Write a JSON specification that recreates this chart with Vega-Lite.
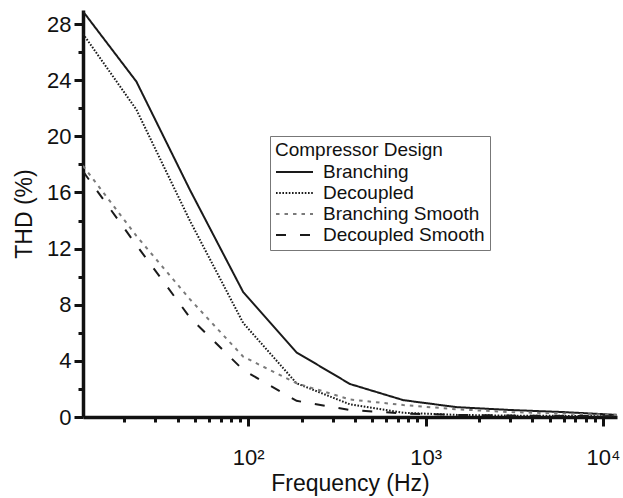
{
  "$schema": "https://vega.github.io/schema/vega-lite/v6.json",
  "width": 534,
  "height": 407,
  "autosize": {"type": "none"},
  "padding": {"left": 83, "top": 10, "right": 6, "bottom": 81},
  "background": "white",
  "config": {
    "view": {"stroke": null},
    "font": "Liberation Sans",
    "axis": {
      "grid": false,
      "domainColor": "#111",
      "domainWidth": 3.5,
      "tickColor": "#111",
      "tickWidth": 3,
      "labelColor": "#111",
      "titleColor": "#111",
      "labelFont": "Liberation Sans",
      "titleFont": "Liberation Sans",
      "titleFontWeight": "normal",
      "labelFontSize": 22,
      "titleFontSize": 23
    },
    "legend": {
      "orient": "none",
      "legendX": 187,
      "legendY": 126,
      "strokeColor": "#777",
      "fillColor": "white",
      "padding": 5,
      "titleFont": "Liberation Sans",
      "labelFont": "Liberation Sans",
      "titleFontWeight": "normal",
      "titleFontSize": 19,
      "labelFontSize": 19,
      "titleColor": "#111",
      "labelColor": "#111",
      "titlePadding": 1,
      "rowPadding": 0,
      "symbolType": "M-1,0H2.7",
      "symbolSize": 400,
      "symbolStrokeWidth": 2,
      "labelOffset": 26,
      "labelLimit": 400
    }
  },
  "data": {
    "values": [
      {"design": "Branching", "freq": 11.71875, "thd": 28.9},
      {"design": "Branching", "freq": 23.4375, "thd": 23.9},
      {"design": "Branching", "freq": 46.875, "thd": 16.2},
      {"design": "Branching", "freq": 93.75, "thd": 8.9},
      {"design": "Branching", "freq": 187.5, "thd": 4.6},
      {"design": "Branching", "freq": 375, "thd": 2.35},
      {"design": "Branching", "freq": 750, "thd": 1.2},
      {"design": "Branching", "freq": 1500, "thd": 0.7},
      {"design": "Branching", "freq": 3000, "thd": 0.5},
      {"design": "Branching", "freq": 6000, "thd": 0.35},
      {"design": "Branching", "freq": 12000, "thd": 0.15},
      {"design": "Decoupled", "freq": 11.71875, "thd": 27.3},
      {"design": "Decoupled", "freq": 23.4375, "thd": 21.9},
      {"design": "Decoupled", "freq": 46.875, "thd": 14.0},
      {"design": "Decoupled", "freq": 93.75, "thd": 6.7},
      {"design": "Decoupled", "freq": 187.5, "thd": 2.4},
      {"design": "Decoupled", "freq": 375, "thd": 0.9},
      {"design": "Decoupled", "freq": 750, "thd": 0.3},
      {"design": "Decoupled", "freq": 1500, "thd": 0.15},
      {"design": "Decoupled", "freq": 3000, "thd": 0.1},
      {"design": "Decoupled", "freq": 6000, "thd": 0.08},
      {"design": "Decoupled", "freq": 12000, "thd": 0.05},
      {"design": "Branching Smooth", "freq": 11.71875, "thd": 17.9},
      {"design": "Branching Smooth", "freq": 23.4375, "thd": 12.9},
      {"design": "Branching Smooth", "freq": 46.875, "thd": 8.4},
      {"design": "Branching Smooth", "freq": 93.75, "thd": 4.3},
      {"design": "Branching Smooth", "freq": 187.5, "thd": 2.4},
      {"design": "Branching Smooth", "freq": 375, "thd": 1.25},
      {"design": "Branching Smooth", "freq": 750, "thd": 0.85},
      {"design": "Branching Smooth", "freq": 1500, "thd": 0.55},
      {"design": "Branching Smooth", "freq": 3000, "thd": 0.35},
      {"design": "Branching Smooth", "freq": 6000, "thd": 0.25},
      {"design": "Branching Smooth", "freq": 12000, "thd": 0.15},
      {"design": "Decoupled Smooth", "freq": 11.71875, "thd": 17.5},
      {"design": "Decoupled Smooth", "freq": 23.4375, "thd": 12.25},
      {"design": "Decoupled Smooth", "freq": 46.875, "thd": 7.1},
      {"design": "Decoupled Smooth", "freq": 93.75, "thd": 3.35},
      {"design": "Decoupled Smooth", "freq": 187.5, "thd": 1.15},
      {"design": "Decoupled Smooth", "freq": 375, "thd": 0.5},
      {"design": "Decoupled Smooth", "freq": 750, "thd": 0.25},
      {"design": "Decoupled Smooth", "freq": 1500, "thd": 0.15},
      {"design": "Decoupled Smooth", "freq": 3000, "thd": 0.1},
      {"design": "Decoupled Smooth", "freq": 6000, "thd": 0.08},
      {"design": "Decoupled Smooth", "freq": 12000, "thd": 0.05}
    ]
  },
  "mark": {"type": "line", "strokeWidth": 2, "clip": true},
  "encoding": {
    "x": {
      "field": "freq",
      "type": "quantitative",
      "scale": {"type": "log", "domain": [11.71875, 12000]},
      "axis": {
        "title": "Frequency (Hz)",
        "values": [20, 30, 40, 50, 60, 70, 80, 90, 100, 200, 300, 400, 500, 600, 700, 800, 900, 1000, 2000, 3000, 4000, 5000, 6000, 7000, 8000, 9000, 10000],
        "labelExpr": "datum.value == 100 ? '10²' : datum.value == 1000 ? '10³' : datum.value == 10000 ? '10⁴' : ''",
        "tickSize": {"condition": {"test": "datum.value == 100 || datum.value == 1000 || datum.value == 10000", "value": 9}, "value": 5},
        "labelPadding": 21,
        "titlePadding": 4,
        "labelFlush": false
      }
    },
    "y": {
      "field": "thd",
      "type": "quantitative",
      "scale": {"domain": [0, 29]},
      "axis": {
        "title": "THD (%)",
        "values": [0, 2, 4, 6, 8, 10, 12, 14, 16, 18, 20, 22, 24, 26, 28],
        "labelExpr": "datum.value % 4 == 0 ? datum.label : ''",
        "tickSize": {"condition": {"test": "datum.value % 4 == 0", "value": 9}, "value": 5},
        "labelPadding": 3,
        "titlePadding": 10
      }
    },
    "color": {
      "field": "design",
      "type": "nominal",
      "title": "Compressor Design",
      "scale": {
        "domain": ["Branching", "Decoupled", "Branching Smooth", "Decoupled Smooth"],
        "range": ["#1a1a1a", "#1a1a1a", "#7a7a7a", "#1a1a1a"]
      }
    },
    "strokeDash": {
      "field": "design",
      "type": "nominal",
      "title": "Compressor Design",
      "scale": {
        "domain": ["Branching", "Decoupled", "Branching Smooth", "Decoupled Smooth"],
        "range": [[1, 0], [1.6, 1.6], [3.5, 5], [10, 14]]
      }
    }
  }
}
